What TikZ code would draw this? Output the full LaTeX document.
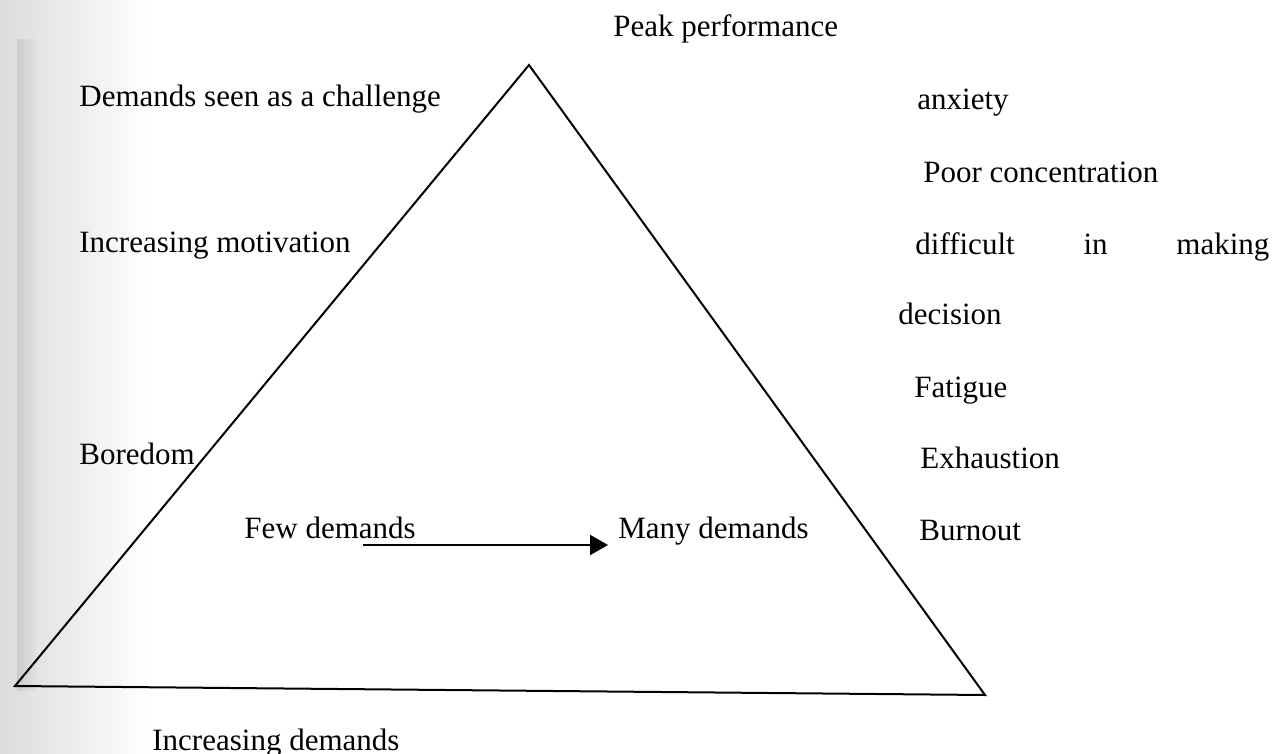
\documentclass[tikz,border=0pt]{standalone}
\usepackage{fontspec}
\setmainfont{Liberation Serif}
\usetikzlibrary{arrows.meta}
\begin{document}
\begin{tikzpicture}[x=0.5pt,y=-0.5pt,
  lbl/.style={anchor=base west,inner sep=0pt,font=\fontsize{15.5}{18}\selectfont},
  edge/.style={line width=1pt,black},
  flow/.style={line width=1.1pt,-{Triangle[length=9pt,width=10pt]}}]
\useasboundingbox (0,0) rectangle (1273,754);
% scan shading on the left margin
\shade[left color=black!14,right color=white] (0,0) rectangle (150,754);
\shade[left color=black!20,right color=black!12] (17,40) rectangle (36,690);
% triangle
\coordinate (apex) at (529,65);
\coordinate (bl) at (15,686);
\coordinate (br) at (985,695);
\draw[edge,line join=miter] (bl) -- (apex) -- (br) -- cycle;
% labels
\node[lbl] (peak) at (613,37) {Peak performance};
\node[lbl] (chal) at (79,107) {Demands seen as a challenge};
\node[lbl] (motiv) at (79,252) {Increasing motivation};
\node[lbl] (bore) at (79,464) {Boredom};
\node[lbl] (few) at (244,538) {Few demands};
\node[lbl] (many) at (618,538) {Many demands};
\node[lbl] (incd) at (152,750) {Increasing demands};
\node[lbl] (anx) at (917,110) {anxiety};
\node[lbl] (poor) at (923,183) {Poor concentration};
\node[lbl] (diff) at (915,255) {\makebox[177pt][s]{difficult in making}};
\node[lbl] (dec) at (898,324) {decision};
\node[lbl] (fat) at (914,397) {Fatigue};
\node[lbl] (exh) at (920,468) {Exhaustion};
\node[lbl] (burn) at (919,540) {Burnout};
% arrow
\coordinate (astart) at (363,545);
\coordinate (aend) at (608,545);
\draw[flow] (astart) -- (aend);
\end{tikzpicture}
\end{document}
